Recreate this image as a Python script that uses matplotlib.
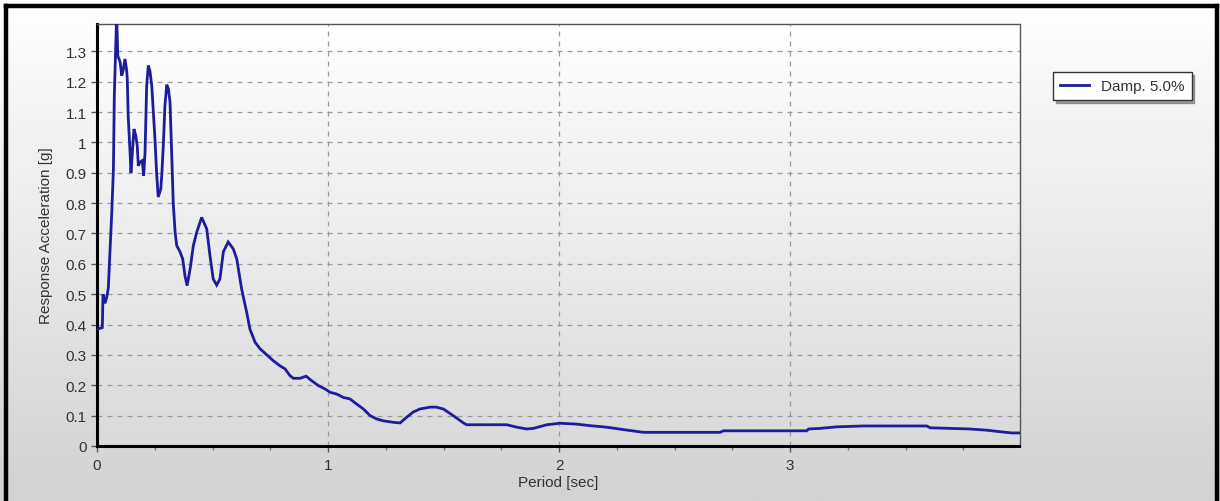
import numpy as np
import matplotlib
matplotlib.use("Agg")
import matplotlib.pyplot as plt
from matplotlib.lines import Line2D
from matplotlib.ticker import MultipleLocator, FuncFormatter

# response spectrum
period = [0.003, 0.023, 0.026, 0.035, 0.042, 0.049, 0.056, 0.064, 0.071, 0.075,
          0.081, 0.085, 0.090, 0.100, 0.107, 0.114, 0.121, 0.128, 0.131, 0.135,
          0.143, 0.147, 0.153, 0.160, 0.168, 0.174, 0.179, 0.186, 0.196, 0.202,
          0.208, 0.215, 0.222, 0.229, 0.237, 0.244, 0.251, 0.258, 0.265, 0.276,
          0.281, 0.287, 0.294, 0.302, 0.309, 0.316, 0.320, 0.326, 0.330, 0.338,
          0.345, 0.359, 0.371, 0.381, 0.390, 0.403, 0.417, 0.432, 0.453, 0.475,
          0.489, 0.503, 0.518, 0.532, 0.547, 0.568, 0.590, 0.605, 0.626, 0.648,
          0.662, 0.684, 0.706, 0.735, 0.763, 0.792, 0.814, 0.835, 0.850, 0.879,
          0.905, 0.929, 0.958, 0.987, 1.009, 1.038, 1.066, 1.095, 1.124, 1.153,
          1.182, 1.211, 1.239, 1.283, 1.312, 1.341, 1.369, 1.398, 1.442, 1.468,
          1.499, 1.542, 1.586, 1.600, 1.774, 1.817, 1.860, 1.889, 1.947, 2.004,
          2.077, 2.134, 2.206, 2.278, 2.365, 2.697, 2.711, 3.072, 3.080, 3.130,
          3.200, 3.317, 3.592, 3.606, 3.779, 3.852, 3.909, 3.960, 3.993]
accel = [0.385, 0.39, 0.50, 0.47, 0.49, 0.52, 0.64, 0.77, 0.91, 1.154,
         1.32, 1.42, 1.285, 1.265, 1.22, 1.24, 1.275, 1.24, 1.21, 1.088,
         0.968, 0.90, 0.968, 1.044, 1.022, 0.99, 0.923, 0.935, 0.94, 0.89,
         0.968, 1.187, 1.253, 1.236, 1.187, 1.10, 1.01, 0.90, 0.82, 0.846,
         0.90, 0.99, 1.12, 1.19, 1.176, 1.133, 1.044, 0.90, 0.80, 0.705,
         0.66, 0.64, 0.616, 0.56, 0.528, 0.583, 0.66, 0.705, 0.753, 0.715,
         0.627, 0.55, 0.53, 0.55, 0.64, 0.672, 0.649, 0.616, 0.517, 0.44,
         0.385, 0.342, 0.32, 0.30, 0.281, 0.264, 0.254, 0.232, 0.223, 0.223,
         0.23, 0.215, 0.199, 0.188, 0.177, 0.171, 0.16, 0.155, 0.138, 0.122,
         0.10, 0.089, 0.083, 0.078, 0.076, 0.095, 0.112, 0.122, 0.128, 0.128,
         0.122, 0.10, 0.076, 0.07, 0.07, 0.062, 0.056, 0.058, 0.07, 0.075,
         0.072, 0.067, 0.062, 0.054, 0.045, 0.045, 0.05, 0.05, 0.056, 0.058,
         0.063, 0.066, 0.066, 0.06, 0.056, 0.052, 0.047, 0.043, 0.043]
series_label = "Damp. 5.0%"

plt.rcParams['font.family'] = ['Liberation Sans', 'DejaVu Sans']

fig = plt.figure(figsize=(12.2, 5.02), dpi=100)

# figure background gradient
bg = fig.add_axes([0, 0, 1, 1], zorder=-10)
grad = np.linspace(1.0, 0.0, 256).reshape(-1, 1)
bg.imshow(grad, cmap=matplotlib.colors.LinearSegmentedColormap.from_list(
    "g", ["#d2d2d2", "#ffffff"]), aspect='auto', extent=[0, 1, 0, 1], origin='upper')
bg.set_xlim(0, 1)
bg.set_ylim(0, 1)
bg.axis('off')

# outer black frame (bottom cut off)
W, H = 1220.0, 502.0
for xs, ys in [([6, 6], [7, 502]), ([6, 1217], [7, 7]), ([1217, 1217], [7, 502])]:
    fig.add_artist(Line2D([x / W for x in xs], [1 - y / H for y in ys],
                          color='black', lw=3.2, transform=fig.transFigure))

ax = fig.add_axes([97 / W, 1 - 447 / H, (1019.5 - 97) / W, (447 - 25) / H])
ax.patch.set_visible(False)
ax.imshow(grad, cmap=matplotlib.colors.LinearSegmentedColormap.from_list(
    "a", ["#dadada", "#ffffff"]), aspect='auto', extent=[0, 1, 0, 1],
    transform=ax.transAxes, zorder=-5)

ax.plot(period, accel, color='#1c1c9c', lw=2.0, label=series_label, zorder=3,
        solid_joinstyle='miter')

ax.set_xlim(0, 3.993)
ax.set_ylim(0, 1.39)
ax.xaxis.set_major_locator(MultipleLocator(1))
ax.xaxis.set_minor_locator(MultipleLocator(0.25))
ax.yaxis.set_major_locator(MultipleLocator(0.1))
ax.yaxis.set_major_formatter(FuncFormatter(lambda v, p: '%g' % round(v, 2)))
ax.grid(True, which='major', color='#9a9a9a', linestyle=(0, (4, 4)), lw=0.9)

for s in ['left', 'bottom']:
    ax.spines[s].set_linewidth(2.2)
    ax.spines[s].set_color('black')
for s in ['top', 'right']:
    ax.spines[s].set_linewidth(1.0)
    ax.spines[s].set_color('#555555')

ax.tick_params(axis='both', which='major', length=4, width=1, color='#555555',
               labelsize=11, labelcolor='#333333', direction='out')
ax.tick_params(axis='x', which='minor', length=3, width=1, color='#777777')
ax.tick_params(axis='x', pad=5)

ax.set_xlabel('Period [sec]', fontsize=11, color='#333333', labelpad=2)
ax.set_ylabel('Response Acceleration [g]', fontsize=11, color='#333333', labelpad=9)

leg = fig.legend(loc='upper left', bbox_to_anchor=(1053 / W, 1 - 73 / H),
                 borderaxespad=0, frameon=True, fancybox=False, shadow=True,
                 fontsize=11, handlelength=1.9, borderpad=0.45, handletextpad=0.8)
leg.get_frame().set_edgecolor('#333333')
leg.get_frame().set_linewidth(1.0)
for t in leg.get_texts():
    t.set_color('#333333')

fig.savefig('out.png', dpi=100)
